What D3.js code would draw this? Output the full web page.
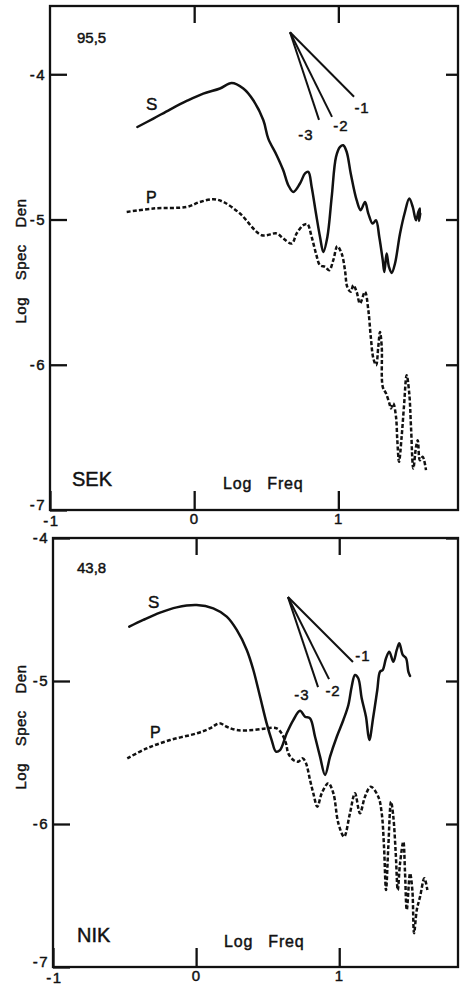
<!DOCTYPE html>
<html><head><meta charset="utf-8">
<script src="https://cdn.jsdelivr.net/npm/d3@7"></script>
<style>
html,body{margin:0;padding:0;background:#fff;}
svg{display:block;}
text{font-family:"Liberation Sans",Arial,sans-serif;fill:#111;stroke:#111;stroke-width:0.45px;}
</style></head><body>
<svg id="chart" width="460" height="985"></svg>
<script>
// Log spectral density against log frequency for S and P waves at two stations.
const xTicks = [-1, 0, 1];
const yTicks = [-4, -5, -6, -7];
const stations = ["SEK", "NIK"];
const distances = ["95,5", "43,8"];
const seriesNames = ["S", "P"];
const slopeLabels = ["-1", "-2", "-3"];
const slopeValues = [-1, -2, -3];
const slopeApexSEK = [0.665, -3.711];
const slopeApexNIK = [0.642, -4.413];
const slopeRunsSEK = [0.444, 0.291, 0.201];
const slopeRunsNIK = [0.454, 0.287, 0.21];

// SEK, S wave [log freq, log spec den]
const sekS = [[-0.394,-4.363],[-0.283,-4.305],[-0.168,-4.243],[-0.052,-4.184],[0.063,-4.133],[0.179,-4.098],
  [0.260,-4.060],[0.341,-4.098],[0.410,-4.179],[0.480,-4.317],[0.514,-4.443],[0.572,-4.557],[0.618,-4.661],
  [0.653,-4.764],[0.688,-4.810],[0.734,-4.752],[0.769,-4.683],[0.792,-4.672],[0.815,-4.776],[0.845,-4.959],
  [0.873,-5.120],[0.896,-5.223],[0.924,-5.120],[0.954,-4.844],[0.984,-4.569],[1.012,-4.500],[1.034,-4.489],
  [1.058,-4.535],[1.086,-4.683],[1.127,-4.867],[1.155,-4.936],[1.185,-4.879],[1.208,-4.959],[1.238,-5.028],
  [1.261,-5.005],[1.284,-5.120],[1.308,-5.280],[1.319,-5.361],[1.335,-5.234],[1.351,-5.326],[1.370,-5.368],
  [1.393,-5.303],[1.428,-5.096],[1.462,-4.948],[1.492,-4.855],[1.516,-4.913],[1.539,-5.005],[1.555,-4.948],
  [1.566,-4.924],[1.560,-5.010],[1.568,-4.960]];

// SEK, P wave
const sekP = [[-0.468,-4.948],[-0.283,-4.924],[-0.052,-4.913],[0.040,-4.879],[0.133,-4.860],[0.202,-4.879],
  [0.318,-4.959],[0.468,-5.108],[0.572,-5.096],[0.618,-5.131],[0.677,-5.165],[0.711,-5.096],[0.757,-5.039],
  [0.785,-5.032],[0.815,-5.120],[0.845,-5.234],[0.873,-5.315],[0.908,-5.326],[0.937,-5.349],[0.965,-5.280],
  [0.993,-5.184],[1.023,-5.234],[1.046,-5.349],[1.062,-5.464],[1.086,-5.498],[1.104,-5.452],[1.127,-5.498],
  [1.150,-5.578],[1.185,-5.498],[1.208,-5.624],[1.225,-5.808],[1.243,-5.957],[1.262,-6.003],[1.277,-5.877],
  [1.289,-5.774],[1.301,-5.877],[1.308,-6.152],[1.331,-6.198],[1.354,-6.266],[1.365,-6.301],[1.381,-6.266],
  [1.400,-6.359],[1.409,-6.519],[1.421,-6.668],[1.439,-6.496],[1.455,-6.290],[1.474,-6.072],[1.492,-6.198],
  [1.504,-6.427],[1.520,-6.714],[1.539,-6.565],[1.551,-6.519],[1.566,-6.657],[1.585,-6.634],[1.608,-6.725]];

// NIK, S wave
const nikS = [[-0.467,-4.620],[-0.369,-4.573],[-0.252,-4.522],[-0.136,-4.485],[0.004,-4.469],[0.120,-4.492],
  [0.214,-4.550],[0.284,-4.643],[0.354,-4.783],[0.400,-4.923],[0.447,-5.110],[0.493,-5.296],[0.528,-5.413],
  [0.558,-5.494],[0.586,-5.483],[0.633,-5.366],[0.679,-5.273],[0.726,-5.208],[0.761,-5.250],[0.796,-5.261],
  [0.831,-5.390],[0.866,-5.529],[0.901,-5.657],[0.936,-5.529],[0.983,-5.390],[1.029,-5.273],[1.064,-5.168],
  [1.087,-5.040],[1.110,-4.958],[1.133,-4.981],[1.157,-5.121],[1.187,-5.250],[1.210,-5.413],[1.238,-5.250],
  [1.266,-5.063],[1.285,-4.935],[1.304,-4.923],[1.327,-4.841],[1.350,-4.795],[1.378,-4.865],[1.402,-4.783],
  [1.420,-4.736],[1.444,-4.818],[1.467,-4.841],[1.483,-4.935],[1.495,-4.965]];

// NIK, P wave
const nikP = [[-0.481,-5.541],[-0.345,-5.471],[-0.182,-5.413],[0.004,-5.366],[0.097,-5.331],[0.162,-5.296],
  [0.214,-5.320],[0.284,-5.343],[0.400,-5.343],[0.493,-5.331],[0.563,-5.331],[0.598,-5.366],[0.628,-5.436],
  [0.644,-5.506],[0.679,-5.552],[0.714,-5.564],[0.745,-5.541],[0.768,-5.576],[0.796,-5.692],[0.819,-5.785],
  [0.847,-5.879],[0.878,-5.785],[0.924,-5.715],[0.959,-5.785],[0.994,-5.995],[1.034,-6.089],[1.075,-5.925],
  [1.110,-5.785],[1.145,-5.925],[1.180,-5.809],[1.220,-5.739],[1.273,-5.809],[1.297,-5.925],[1.313,-6.159],
  [1.327,-6.462],[1.343,-6.159],[1.362,-5.844],[1.378,-5.949],[1.395,-6.205],[1.409,-6.462],[1.425,-6.275],
  [1.448,-6.124],[1.460,-6.345],[1.472,-6.601],[1.495,-6.345],[1.511,-6.462],[1.523,-6.764],[1.542,-6.601],
  [1.565,-6.508],[1.595,-6.380],[1.616,-6.462]];

const svg = d3.select("#chart");

const panels = [
  { station: stations[0], dist: distances[0], S: sekS, P: sekP, apex: slopeApexSEK, runs: slopeRunsSEK,
    left: 50, right: 458, top: 6, bottom: 510, yMax: -3.53,
    distPos: [77, 43], stationPos: [72, 486], freqPos: [223, 489], yTitleY: 261,
    sPos: [146, 110], pPos: [146, 203],
    slopeLabelOffsets: [[8, 16], [9, 14], [-13, 20]] },
  { station: stations[1], dist: distances[1], S: nikS, P: nikP, apex: slopeApexNIK, runs: slopeRunsNIK,
    left: 53, right: 458, top: 538, bottom: 967, yMax: -4,
    distPos: [77, 573], stationPos: [77, 942], freqPos: [224, 947], yTitleY: 727,
    sPos: [148, 608], pPos: [150, 738],
    slopeLabelOffsets: [[10, -1], [4, 17], [-16, 13]] }
];

panels.forEach(p => {
  const x = d3.scaleLinear().domain([-1, 1.83]).range([p.left, p.right]);
  const y = d3.scaleLinear().domain([-7, p.yMax]).range([p.bottom, p.top]);
  const g = svg.append("g");

  // frame
  g.append("rect")
    .attr("x", p.left).attr("y", p.top)
    .attr("width", p.right - p.left).attr("height", p.bottom - p.top)
    .attr("fill", "none").attr("stroke", "#111").attr("stroke-width", 2.3);

  const styleAxis = sel => {
    sel.select(".domain").remove();
    sel.selectAll(".tick line").attr("stroke", "#111").attr("stroke-width", 2.3);
    sel.selectAll(".tick text").attr("fill", "#111")
      .style("font-size", "15px").style("letter-spacing", "1.5px")
      .style("font-family", "'Liberation Sans', Arial, sans-serif");
  };

  const fmt = d => String(d).replace("\u2212", "-");

  // left axis with labels; the corner label is lifted clear of the x label below it
  g.append("g").attr("transform", `translate(${p.left},0)`)
    .call(d3.axisLeft(y).tickValues(yTicks).tickSize(-17).tickPadding(4).tickFormat(fmt))
    .call(styleAxis)
    .selectAll(".tick text").filter(d => d === -7).attr("transform", "translate(0,-5)");
  // right axis ticks
  g.append("g").attr("transform", `translate(${p.right},0)`)
    .call(d3.axisRight(y).tickValues(yTicks.slice(0, 3)).tickSize(-12).tickFormat(""))
    .call(styleAxis);
  // bottom axis with labels
  g.append("g").attr("transform", `translate(0,${p.bottom})`)
    .call(d3.axisBottom(x).tickValues(xTicks).tickSize(-19).tickPadding(3).tickFormat(fmt))
    .call(styleAxis)
    .selectAll(".tick text").filter(d => d === -1).attr("transform", "translate(1,2)");
  // top axis ticks
  g.append("g").attr("transform", `translate(0,${p.top})`)
    .call(d3.axisTop(x).tickValues(xTicks.slice(1)).tickSize(-17).tickFormat(""))
    .call(styleAxis);

  const line = d3.line().x(d => x(d[0])).y(d => y(d[1])).curve(d3.curveCatmullRom.alpha(0.5));

  g.append("path").datum(p.S).attr("d", line)
    .attr("fill", "none").attr("stroke", "#111").attr("stroke-width", 2.5)
    .attr("stroke-linejoin", "round").attr("stroke-linecap", "round");
  g.append("path").datum(p.P).attr("d", line)
    .attr("fill", "none").attr("stroke", "#111").attr("stroke-width", 2.5)
    .attr("stroke-dasharray", "4,2.2");

  // reference slopes
  slopeValues.forEach((s, i) => {
    const x2 = p.apex[0] + p.runs[i];
    const y2 = p.apex[1] + s * p.runs[i];
    g.append("line")
      .attr("x1", x(p.apex[0])).attr("y1", y(p.apex[1]))
      .attr("x2", x(x2)).attr("y2", y(y2))
      .attr("stroke", "#111").attr("stroke-width", 2);
    const off = p.slopeLabelOffsets[i];
    g.append("text").attr("x", x(x2) + off[0]).attr("y", y(y2) + off[1])
      .attr("text-anchor", "middle").style("font-size", "15px").style("letter-spacing", "1px")
      .text(slopeLabels[i]);
  });

  // annotations
  g.append("text").attr("x", p.distPos[0]).attr("y", p.distPos[1]).style("font-size", "15px").text(p.dist);
  g.append("text").attr("x", p.stationPos[0]).attr("y", p.stationPos[1]).style("font-size", "20px").text(p.station);
  g.append("text").attr("x", p.sPos[0]).attr("y", p.sPos[1]).style("font-size", "17px").text(seriesNames[0]);
  g.append("text").attr("x", p.pPos[0]).attr("y", p.pPos[1]).style("font-size", "16px").text(seriesNames[1]);

  g.append("text").attr("x", p.freqPos[0]).attr("y", p.freqPos[1])
    .style("font-size", "16px").style("letter-spacing", "0.8px").style("word-spacing", "10px")
    .text("Log Freq");
  g.append("text")
    .attr("transform", `translate(26,${p.yTitleY}) rotate(-90)`)
    .attr("text-anchor", "middle")
    .style("font-size", "15px").style("letter-spacing", "0.5px").style("word-spacing", "12px")
    .text("Log Spec Den");
});
</script>
</body></html>
